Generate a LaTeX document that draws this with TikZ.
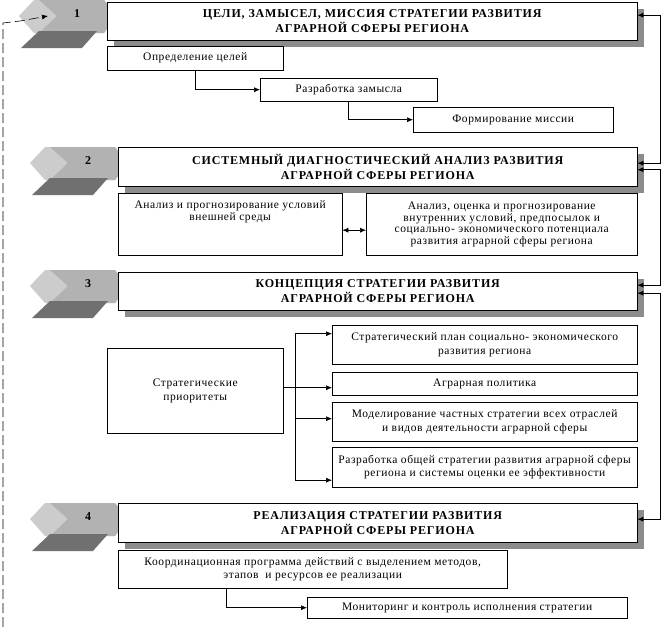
\documentclass[tikz,border=0pt]{standalone}
\usepackage{fontspec}
\setmainfont{Liberation Serif}
\usetikzlibrary{positioning,arrows.meta,shadows,calc}

\definecolor{chevlight}{RGB}{204,204,204}
\definecolor{chevmid}{RGB}{178,178,178}
\definecolor{chevdark}{RGB}{112,112,112}
\definecolor{boxshade}{RGB}{140,140,140}

\newfontfamily\wideserif[LetterSpace=5]{Liberation Serif}
\newfontfamily\widetitle[LetterSpace=7]{Liberation Serif}

\begin{document}
\begin{tikzpicture}[
        x=1pt, y=-1pt,
        >={Latex[length=6pt,width=5pt]},
        title/.style={
            rectangle,
            draw,
            fill=white,
            align=center,
            anchor=north west,
            inner sep=0pt,
            font=\widetitle\bfseries\fontsize{12}{15}\selectfont,
            drop shadow={shadow xshift=7pt, shadow yshift=-7pt, fill=boxshade, opacity=1}
        },
        block/.style={
            rectangle,
            draw,
            fill=white,
            align=center,
            anchor=north west,
            inner sep=0pt,
            font=\wideserif\fontsize{11.5}{13.5}\selectfont
        },
        num/.style={font=\bfseries\fontsize{12}{13}\selectfont},
        line/.style={->, line width=0.6pt},
        feed/.style={<->, line width=0.6pt},
        back/.style={->, line width=0.6pt, dash pattern=on 10pt off 4pt}
    ]
    \useasboundingbox (0,0) rectangle (662,627);

    % STAGE MARKERS (chevrons)
    \foreach \n/\cx/\cy in {1/19/0, 2/30/147, 3/30/270, 4/30/503} {
        \fill[chevlight] (\cx,\cy+16) -- (\cx+15,\cy) -- (\cx+85,\cy) -- (\cx+98,\cy+16)
            -- (\cx+85,\cy+33) -- (\cx+15,\cy+33) -- cycle;
        \fill[chevmid] (\cx+20,\cy) -- (\cx+85,\cy) -- (\cx+98,\cy+16) -- (\cx+85,\cy+33)
            -- (\cx+20,\cy+33) -- (\cx+38,\cy+16) -- cycle;
        \fill[chevdark] (\cx+2,\cy+48) -- (\cx+20,\cy+31) -- (\cx+78,\cy+31) -- (\cx+63,\cy+48) -- cycle;
        \node[num] (num\n) at (\cx+58,\cy+14) {\n};
    }

    % STAGE 1: GOALS
    \node[title, minimum width=530pt, minimum height=38pt] (t1) at (107,2)
        {ЦЕЛИ, ЗАМЫСЕЛ, МИССИЯ СТРАТЕГИИ РАЗВИТИЯ\\АГРАРНОЙ СФЕРЫ РЕГИОНА};
    \node[block, minimum width=176pt, minimum height=24pt] (goal) at (107,46) {Определение целей};
    \node[block, minimum width=177pt, minimum height=23pt] (idea) at (260,78) {Разработка замысла};
    \node[block, minimum width=200pt, minimum height=25pt] (mission) at (413,107) {Формирование миссии};

    % STAGE 2: DIAGNOSTICS
    \node[title, minimum width=519pt, minimum height=39pt] (t2) at (118,147)
        {СИСТЕМНЫЙ ДИАГНОСТИЧЕСКИЙ АНАЛИЗ РАЗВИТИЯ\\АГРАРНОЙ СФЕРЫ РЕГИОНА};
    \node[block, minimum width=224pt, minimum height=62pt,
        label={[anchor=north, yshift=-4pt, align=center, font=\wideserif\fontsize{11.5}{12}\selectfont]north:Анализ и прогнозирование условий\\внешней среды}] (ext) at (118,193) {};
    \node[block, minimum width=271pt, minimum height=62pt, font=\wideserif\fontsize{11.5}{11.5}\selectfont] (int) at (366,193)
        {Анализ, оценка и прогнозирование\\внутренних условий, предпосылок и\\социально- экономического потенциала\\развития аграрной сферы региона};

    % STAGE 3: CONCEPT
    \node[title, minimum width=519pt, minimum height=38pt] (t3) at (118,272)
        {КОНЦЕПЦИЯ СТРАТЕГИИ РАЗВИТИЯ\\АГРАРНОЙ СФЕРЫ РЕГИОНА};
    \node[block, minimum width=176pt, minimum height=85pt] (prio) at (107,348) {Стратегические\\приоритеты};
    \node[block, minimum width=305pt, minimum height=39pt] (plan) at (332,325)
        {Стратегический план социально- экономического\\развития региона};
    \node[block, minimum width=305pt, minimum height=23pt] (pol) at (332,372) {Аграрная политика};
    \node[block, minimum width=305pt, minimum height=39pt] (model) at (332,402)
        {Моделирование частных стратегии всех отраслей\\и видов деятельности аграрной сферы};
    \node[block, minimum width=305pt, minimum height=40pt] (dev) at (332,447)
        {Разработка общей стратегии развития аграрной сферы\\региона и системы оценки ее эффективности};

    % STAGE 4: REALISATION
    \node[title, minimum width=519pt, minimum height=39pt] (t4) at (118,503)
        {РЕАЛИЗАЦИЯ СТРАТЕГИИ РАЗВИТИЯ\\АГРАРНОЙ СФЕРЫ РЕГИОНА};
    \node[block, minimum width=389pt, minimum height=38pt] (coord) at (118,550)
        {Координационная программа действий с выделением методов,\\этапов\ \ и ресурсов ее реализации};
    \node[block, minimum width=320pt, minimum height=21pt] (monit) at (307,597)
        {Мониторинг и контроль исполнения стратегии};

    % ============================================================
    % CONNECTIONS: inside the stages
    % ============================================================
    \draw[line] (goal) |- (idea);
    \draw[line] (idea) |- (mission);

    \draw[feed] ([yshift=-6pt]ext.east) -- ([yshift=-6pt]int.west);

    \coordinate (bus) at ([xshift=12pt]prio.east);
    \coordinate (planin) at ([yshift=11pt]plan.west);
    \coordinate (modelin) at ([yshift=3pt]model.west);
    \coordinate (devin) at ([yshift=-13pt]dev.west);
    \draw[line] ([yshift=3pt]prio.east) -- ([yshift=3pt]prio.east -| pol.west);
    \draw (bus |- planin) -- (bus |- devin);
    \draw[line] (bus |- planin) -- (planin);
    \draw[line] (bus |- modelin) -- (modelin);
    \draw[line] (bus |- devin) -- (devin);

    \draw[line] ([xshift=-86pt]coord.south) |- (monit);

    % ============================================================
    % CONNECTIONS: feedback between stages
    % ============================================================
    \draw[feed] ([yshift=6pt]t1.east) -- ++(23,0) |- ([yshift=3.5pt]t2.east);
    \draw[feed] ([yshift=-3pt]t2.east) -- ++(23,0) |- ([yshift=6pt]t3.east);
    \draw[feed] ([yshift=-2pt]t3.east) -- ++(23,0) |- ([yshift=3.5pt]t4.east);

    \coordinate (loopbot) at (3,627);
    \coordinate (looptop) at (3,23);
    \coordinate (loopbend) at (20,21);
    \coordinate (chev1in) at (48,16);
    \draw[back] (loopbot) -- (looptop) -- (loopbend) -- (chev1in);

\end{tikzpicture}
\end{document}
